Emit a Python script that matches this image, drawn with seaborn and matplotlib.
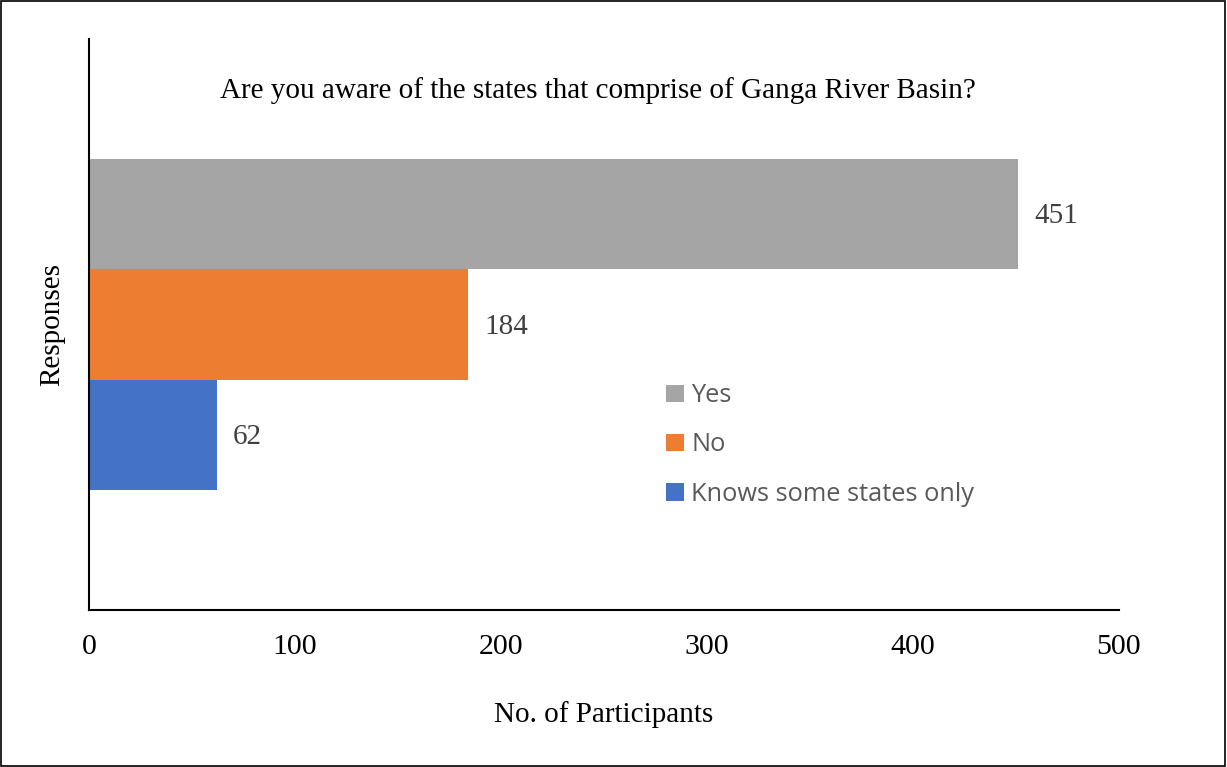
import matplotlib
matplotlib.use("Agg")
import matplotlib.pyplot as plt
import seaborn as sns
import pandas as pd
from matplotlib.patches import Rectangle

categories = ["Yes", "No", "Knows some states only"]
values = [451, 184, 62]
colors = ["#A5A5A5", "#ED7D31", "#4472C4"]
title = "Are you aware of the states that comprise of Ganga River Basin?"
xticks = [0, 100, 200, 300, 400, 500]

sns.set_theme(style="white")
plt.rcParams['font.family'] = ['Liberation Serif', 'DejaVu Serif']

df = pd.DataFrame({"cat": categories, "val": values})

fig = plt.figure(figsize=(12.27, 7.67), dpi=100)
ax = fig.add_axes([89/1227, 1 - 610/767, 1030/1227, 571/767])

sns.barplot(data=df, y="cat", x="val", hue="cat", palette=colors,
            order=categories, hue_order=categories, width=1.0,
            dodge=False, ax=ax, legend=True, saturation=1, linewidth=0)

ax.set_xlim(0, 500)
ax.set_ylim(3.58, -1.58)
ax.set_xticks(xticks)
ax.set_xticklabels([str(t) for t in xticks], fontsize=21.5, color="#000000")
ax.tick_params(axis="x", length=0, pad=17)
ax.set_yticks([])
ax.set_ylabel("Responses", fontsize=21, color="#000000", labelpad=17)
ax.set_xlabel("No. of Participants", fontsize=21, color="#000000", labelpad=30)

for s in ["top", "right"]:
    ax.spines[s].set_visible(False)
for s in ["left", "bottom"]:
    ax.spines[s].set_color("#000000")
    ax.spines[s].set_linewidth(1.5)

for i, v in enumerate(values):
    ax.text(v + 8, i + 0.02, str(v), va="center", ha="left", fontsize=21, color="#404040")

ax.text(0.494, 0.91, title, transform=ax.transAxes, ha="center", va="center",
        fontsize=21, color="#000000")

handles, labels = ax.get_legend_handles_labels()
leg = ax.legend(handles, labels, loc="upper left", bbox_to_anchor=(0.56, 0.397),
                frameon=False, prop={"family": "Open Sans", "size": 18.3},
                handlelength=0.7, handleheight=0.7, handletextpad=0.3,
                labelspacing=0.95, borderpad=0, borderaxespad=0)
for t in leg.get_texts():
    t.set_color("#595959")

fig.patches.append(Rectangle((0.0005, 0.0008), 0.998, 0.998, transform=fig.transFigure,
                             fill=False, edgecolor="#000000", linewidth=1.2))

fig.savefig("out.png", dpi=100)
